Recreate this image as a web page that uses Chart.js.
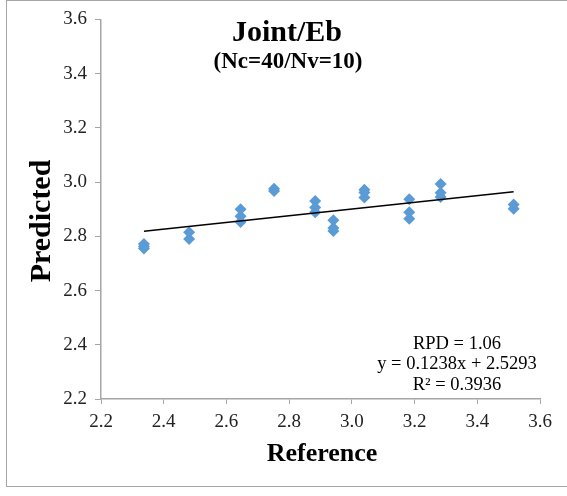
<!DOCTYPE html>
<html>
<head>
<meta charset="utf-8">
<script src="https://cdn.jsdelivr.net/npm/chart.js@4/dist/chart.umd.min.js"></script>
<style>
    html, body { margin: 0; padding: 0; background: #fff; overflow: hidden; }
    #wrap { position: relative; width: 567px; height: 496px; overflow: hidden; }
    #frame { position: absolute; left: 6px; top: 0; width: 561px; height: 487px; border: 1px solid #a6a6a6; border-right: none; box-sizing: border-box; }
    canvas { position: absolute; left: 0; top: 0; }
</style>
</head>
<body>
<div id="wrap">
    <div id="frame"></div>
    <canvas id="chart" width="567" height="496"></canvas>
</div>
<script>
// reference / predicted pairs
const REFERENCE = [
    2.337, 2.337, 2.337,
    2.481, 2.481,
    2.645, 2.645, 2.645,
    2.752, 2.752,
    2.883, 2.883, 2.883,
    2.941, 2.941, 2.941,
    3.040, 3.040, 3.040,
    3.183, 3.183, 3.183,
    3.283, 3.283, 3.283,
    3.516, 3.516
]
const PREDICTED = [
    2.772, 2.762, 2.755,
    2.815, 2.790,
    2.900, 2.874, 2.853,
    2.975, 2.967,
    2.930, 2.906, 2.889,
    2.859, 2.831, 2.820,
    2.972, 2.962, 2.943,
    2.937, 2.889, 2.865,
    2.993, 2.961, 2.945,
    2.917, 2.902
]
const SLOPE = 0.1238
const INTERCEPT = 2.5293
const STATS = ['RPD = 1.06', 'y = 0.1238x + 2.5293', 'R² = 0.3936']
const X_TICKS = [2.2, 2.4, 2.6, 2.8, 3.0, 3.2, 3.4, 3.6]
const Y_TICKS = [2.2, 2.4, 2.6, 2.8, 3.0, 3.2, 3.4, 3.6]

const SERIF = '"Liberation Serif", "Times New Roman", serif'
const AXIS_GREY = '#a6a6a6'

let points = REFERENCE.map((x, i) => ({'x': x, 'y': PREDICTED[i]}))
let x_min = Math.min(...REFERENCE)
let x_max = Math.max(...REFERENCE)
let trend = [x_min, x_max].map(x => ({'x': x, 'y': SLOPE * x + INTERCEPT}))

const textPlugin = {
    'id': 'texts',
    afterDraw(chart) {
        let ctx = chart.ctx
        ctx.save()
        ctx.fillStyle = '#000'
        ctx.textAlign = 'center'
        ctx.textBaseline = 'middle'
        ctx.font = 'bold 30px ' + SERIF
        ctx.fillText('Joint/Eb', 287, 33)
        ctx.font = 'bold 23px ' + SERIF
        ctx.fillText('(Nc=40/Nv=10)', 288, 62)
        ctx.font = '18.5px ' + SERIF
        STATS.forEach((s, i) => ctx.fillText(s, 457, 344 + i * 20.5))
        ctx.font = 'bold 26px ' + SERIF
        ctx.fillText('Reference', 322, 454)
        ctx.font = 'bold 30px ' + SERIF
        ctx.translate(42, 221)
        ctx.rotate(-Math.PI / 2)
        ctx.fillText('Predicted', 0, 0)
        ctx.restore()
    }
}

new Chart(document.getElementById('chart').getContext('2d'), {
    'type': 'scatter',
    'data': {
        'datasets': [{
            'data': points,
            'pointStyle': 'rectRot',
            'pointRadius': 6,
            'pointHoverRadius': 6,
            'borderWidth': 0,
            'backgroundColor': '#5b9bd5',
            'borderColor': '#5b9bd5',
            'order': 2
        }, {
            'type': 'line',
            'data': trend,
            'borderColor': '#000',
            'borderWidth': 1.5,
            'pointRadius': 0,
            'fill': false,
            'order': 1
        }]
    },
    'options': {
        'animation': false,
        'responsive': false,
        'layout': {'padding': {'left': 0, 'top': 18, 'right': 27, 'bottom': 0}},
        'plugins': {
            'legend': {'display': false},
            'tooltip': {'enabled': false}
        },
        'scales': {
            'x': {
                'type': 'linear',
                'min': 2.2,
                'max': 3.6,
                'afterFit': s => { s.height = 97 },
                'afterBuildTicks': s => { s.ticks = X_TICKS.map(v => ({'value': v})) },
                'ticks': {
                    'color': '#222',
                    'font': {'family': SERIF, 'size': 19},
                    'padding': 7,
                    'callback': v => v.toFixed(1)
                },
                'grid': {'drawOnChartArea': false, 'tickLength': 5, 'color': AXIS_GREY},
                'border': {'color': AXIS_GREY, 'width': 1.5}
            },
            'y': {
                'type': 'linear',
                'min': 2.2,
                'max': 3.6,
                'afterFit': s => { s.width = 101 },
                'afterBuildTicks': s => { s.ticks = Y_TICKS.map(v => ({'value': v})) },
                'ticks': {
                    'color': '#222',
                    'font': {'family': SERIF, 'size': 19},
                    'padding': 8,
                    'callback': v => v.toFixed(1)
                },
                'grid': {'drawOnChartArea': false, 'tickLength': 6, 'color': AXIS_GREY},
                'border': {'color': AXIS_GREY, 'width': 1.5}
            }
        }
    },
    'plugins': [textPlugin]
})
</script>
</body>
</html>
